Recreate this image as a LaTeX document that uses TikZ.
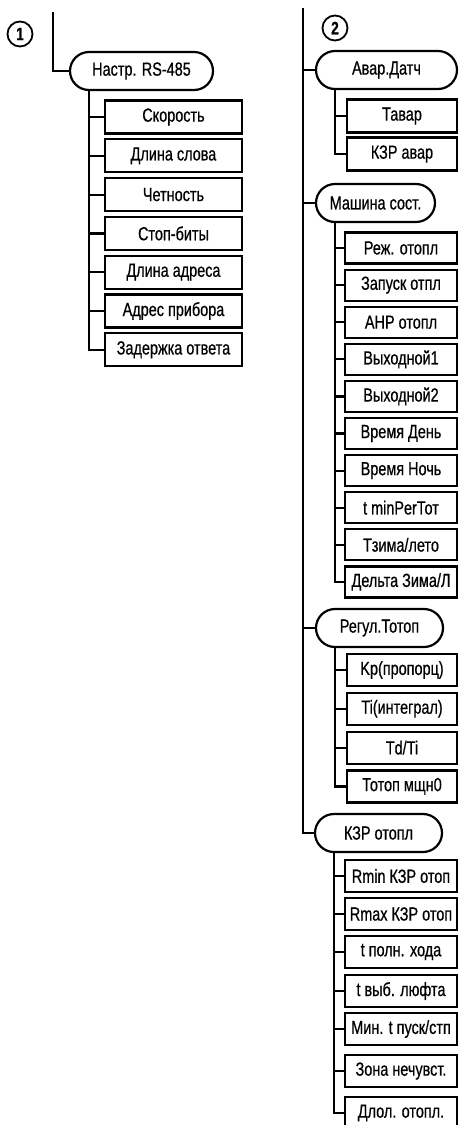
\documentclass[tikz,border=0pt]{standalone}
\usepackage{fontspec}
\setmainfont{Liberation Sans}[FakeStretch=0.76,FakeBold=0.6]
\usetikzlibrary{positioning,shapes.misc}

\begin{document}
\begin{tikzpicture}
        [x=1pt,y=-1pt,
        every node/.style={font=\fontsize{19}{22}\selectfont,inner sep=0pt},
        stad/.style={draw=black,rounded rectangle,line width=2.2pt,minimum height=38pt,fill=white},
        item/.style={draw=black,rectangle,line width=2.2pt,minimum height=32pt,fill=white},
        num/.style={draw=black,circle,line width=1.8pt,minimum size=25pt,font=\fontsize{18}{20}\selectfont\bfseries},
        link/.style={line width=2.2pt}]
        \useasboundingbox (0,0) rectangle (459,1125);
        % left column
        \node[num] (n1) at (20,34) {1};
        \coordinate (top1) at (53,12);
        \node[stad,minimum width=143pt] (nastr) at (141.5,71) {Настр. RS-485};
        \foreach \t [count=\i] in {Скорость,Длина слова,Четность,Стоп-биты,Длина адреса,Адрес прибора,Задержка ответа}
            \node[item,minimum width=137pt,minimum height=33pt] (l\i) at (173.5,{117+38.8*(\i-1)}) {\t};
        \draw[link] (top1) |- (nastr.west);
        \draw[link] (nastr.south west) |- (l7.west);
        \foreach \i in {1,...,6}
            \draw[link] (nastr.south west |- l\i.west) -- (l\i.west);
        % right column
        \node[num] (n2) at (335,28) {2};
        \coordinate (top2) at (303,8);
        \node[stad,minimum width=141pt] (avar) at (386.5,70) {Авар.Датч};
        \node[stad,minimum width=119pt] (mash) at (375.5,203) {Машина сост.};
        \node[stad,minimum width=127pt] (regul) at (379.5,628) {Регул.Тотоп};
        \node[stad,minimum width=127pt] (kzr) at (378.5,833) {КЗР отопл};
        \foreach \t [count=\i] in {Тавар,КЗР авар}
            \node[item,minimum width=110pt,minimum height=33pt] (a\i) at (402,{116+38*(\i-1)}) {\t};
        \foreach \t [count=\i] in {Реж. отопл,Запуск отпл,АНР отопл,Выходной1,Выходной2,Время День,Время Ночь,t minPerТот,Тзима/лето,Дельта Зима/Л}
            \node[item,minimum width=112pt,minimum height=31pt] (m\i) at (401,{248+37.1*(\i-1)}) {\t};
        \foreach \t [count=\i] in {Kp(пропорц),Ti(интеграл),Td/Ti,Тотоп мщн0}
            \node[item,minimum width=110pt] (r\i) at (402,{670+38.8*(\i-1)}) {\t};
        \foreach \t/\y [count=\i] in {Rmin КЗР отоп/876,Rmax КЗР отоп/914,t полн. хода/952,t выб. люфта/991,{Мин. t пуск/стп}/1029,Зона нечувст./1071,Длол. отопл./1113}
            \node[item,minimum width=112pt] (k\i) at (401,\y) {\t};
        \draw[link] (top2) |- (kzr.west);
        \foreach \s in {avar,mash,regul}
            \draw[link] (top2 |- \s.west) -- (\s.west);
        \foreach \s/\c/\n in {avar/a/2,mash/m/10,regul/r/4,kzr/k/7}
        {
            \draw[link] (\s.south west) |- (\c\n.west);
            \foreach \i in {1,...,\n}
                \draw[link] (\s.south west |- \c\i.west) -- (\c\i.west);
        }
\end{tikzpicture}
\end{document}
